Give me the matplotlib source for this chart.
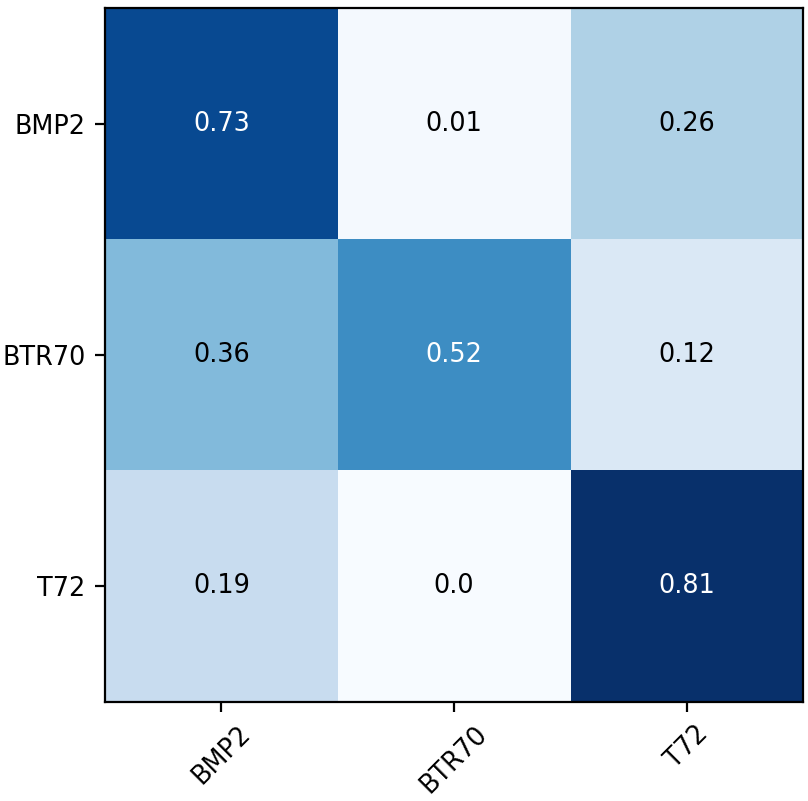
import matplotlib
matplotlib.use("Agg")
import matplotlib.pyplot as plt
import numpy as np

classes = ["BMP2", "BTR70", "T72"]
cm = np.array([
    [0.73, 0.01, 0.26],
    [0.36, 0.52, 0.12],
    [0.19, 0.0, 0.81],
])

# rendered at 2x so ticks/spines look like the reference
fig = plt.figure(figsize=(4.04, 4.005), dpi=200)
ax = fig.add_axes([0.130, 0.124, 0.864, 0.866])
ax.imshow(cm, cmap=plt.cm.Blues, interpolation="nearest", aspect="auto")

ticks = np.arange(len(classes))
ax.set_xticks(ticks)
ax.set_xticklabels(classes, rotation=45, fontsize=9.2)
ax.set_yticks(ticks)
ax.set_yticklabels(classes, fontsize=9.2)

thresh = cm.max() / 2.0
for i in range(cm.shape[0]):
    for j in range(cm.shape[1]):
        ax.text(j, i, str(cm[i, j]), ha="center", va="center", fontsize=9.2,
                color="white" if cm[i, j] > thresh else "black")

fig.savefig("out.png", dpi=200)
